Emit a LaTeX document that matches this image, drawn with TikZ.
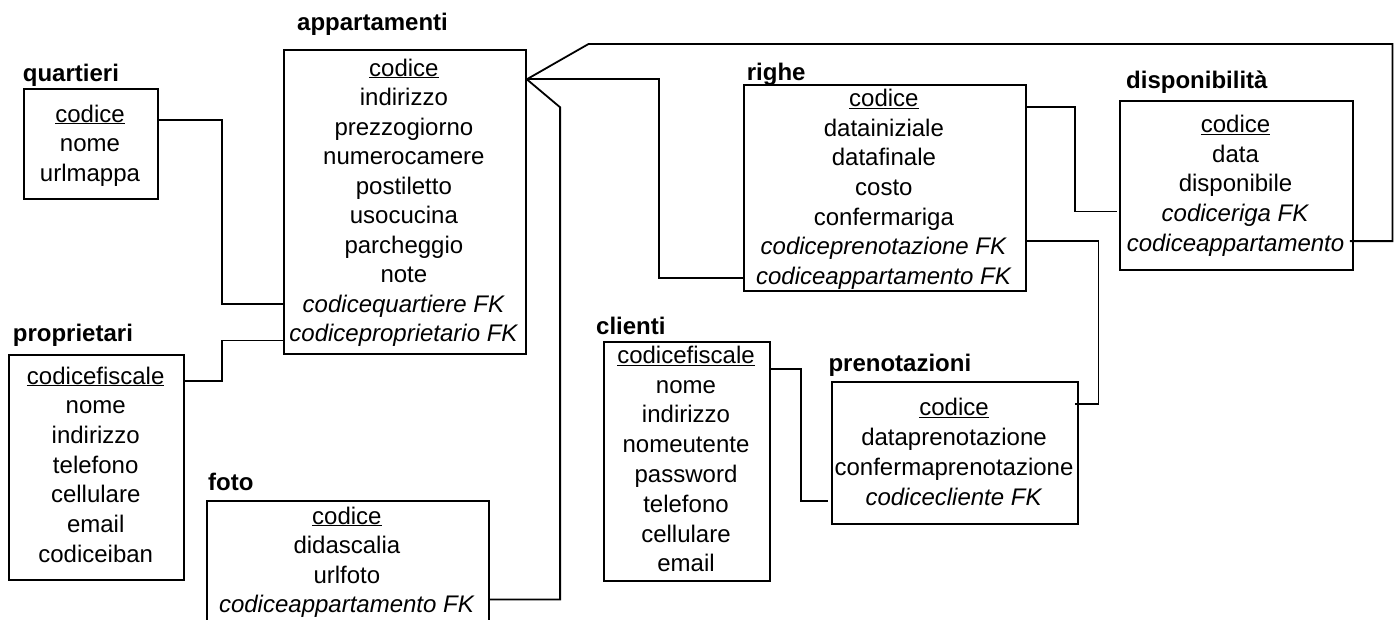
\documentclass[tikz,border=0pt]{standalone}
\usepackage{fontspec}
\setmainfont{Liberation Sans}
\usetikzlibrary{calc}

\tikzset{
  tab/.style={draw, line width=1.8pt, inner sep=0pt, anchor=north west},
  att/.style={font=\fontsize{24}{29}\selectfont, inner sep=0pt, text height=17pt, text depth=5pt},
  ttl/.style={font=\fontsize{24}{29}\selectfont\bfseries, inner sep=0pt, anchor=base west},
  fk/.style={line width=1.8pt}
}

\begin{document}
\begin{tikzpicture}[x=1pt, y=-1pt]
\useasboundingbox (0,0) rectangle (1394,619);
\clip (0,0) rectangle (1394,619);

% quartieri
\node[ttl] (quart-t) at (22.7,81.7) {quartieri};
\node[tab, minimum width=134.6pt, minimum height=109.7pt] (quart) at (22.7,88.3) {};
\foreach \t [count=\i] in {\underline{codice}, nome, urlmappa}
  \node[att] (quart-\i) at (90,{116+29.5*(\i-1)}) {\t};

% appartamenti
\node[ttl] (app-t) at (297,30) {appartamenti};
\node[tab, minimum width=242.3pt, minimum height=304pt] (app) at (282.7,49.3) {};
\foreach \t [count=\i] in {\underline{codice}, indirizzo, prezzogiorno, numerocamere, postiletto,
    usocucina, parcheggio, note, \textit{codicequartiere FK}, \textit{codiceproprietario FK}}
  \node[att] (app-\i) at (403.9,{70+29.5*(\i-1)}) {\t};

% proprietari
\node[ttl] (prop-t) at (12.7,341.7) {proprietari};
\node[tab, minimum width=175.3pt, minimum height=225.3pt] (prop) at (8,354) {};
\foreach \t [count=\i] in {\underline{codicefiscale}, nome, indirizzo, telefono, cellulare, email, codiceiban}
  \node[att] (prop-\i) at (95.7,{378+29.7*(\i-1)}) {\t};

% foto
\node[ttl] (foto-t) at (208,490) {foto};
\node[tab, minimum width=281.7pt, minimum height=140pt] (foto) at (206,500) {};
\foreach \t [count=\i] in {\underline{codice}, didascalia, urlfoto, \textit{codiceappartamento FK}}
  \node[att] (foto-\i) at (346.9,{518+29.5*(\i-1)}) {\t};

% righe
\node[ttl] (righe-t) at (746.7,80.7) {righe};
\node[tab, minimum width=282.3pt, minimum height=205.7pt] (righe) at (742.7,84.3) {};
\foreach \t [count=\i] in {\underline{codice}, datainiziale, datafinale, costo, confermariga,
    \textit{codiceprenotazione FK}, \textit{codiceappartamento FK}}
  \node[att] (righe-\i) at (883.9,{100.7+29.6*(\i-1)}) {\t};

% disponibilita
\node[ttl] (disp-t) at (1126,88) {disponibilità};
\node[tab, minimum width=232.4pt, minimum height=169.3pt] (disp) at (1119.3,100) {};
\foreach \t [count=\i] in {\underline{codice}, data, disponibile, \textit{codiceriga FK}, \textit{codiceappartamento}}
  \node[att] (disp-\i) at (1235.5,{126.7+29.6*(\i-1)}) {\t};

% clienti
\node[ttl] (cli-t) at (596,334) {clienti};
\node[tab, minimum width=166.6pt, minimum height=239.3pt] (cli) at (602.7,340.7) {};
\foreach \t [count=\i] in {\underline{codicefiscale}, nome, indirizzo, nomeutente, password, telefono, cellulare, email}
  \node[att] (cli-\i) at (686,{357.3+29.8*(\i-1)}) {\t};

% prenotazioni
\node[ttl] (pren-t) at (828.3,371) {prenotazioni};
\node[tab, minimum width=246.6pt, minimum height=142.3pt] (pren) at (830.7,381) {};
\foreach \t [count=\i] in {\underline{codice}, dataprenotazione, confermaprenotazione, \textit{codicecliente FK}}
  \node[att] (pren-\i) at (954,{409.3+29.9*(\i-1)}) {\t};

% chiavi esterne
\coordinate (piede) at ($(app.north east)+(0,30)$);
\draw[fk] ($(quart.east |- quart-1)+(0,4)$) -- ++(63,0) |- ($(app.west |- app-9)+(0,-2.4)$);
\draw[fk] ($(prop.east |- prop-1)+(0,3)$) -- ++(37,0) |- ($(app.west |- app-10)+(0,5)$);
\draw[fk] ($(foto.east |- foto-4)+(0,-7)$) -| ($(piede)+(33.3,28)$) -- (piede);
\draw[fk] (righe.west |- righe-7) -| ($(piede)+(132.3,0)$) -- (piede);
\draw[fk] ($(disp.east |- disp-5)+(-3.7,-4)$) -| ($(piede)+(865.7,-35.3)$) -- ($(piede)+(61.7,-35.3)$) -- (piede);
\draw[fk] ($(righe.east |- righe-1)+(0,6.6)$) -- ++(48.3,0) |- ($(disp.west |- disp-4)+(-2.6,-4)$);
\draw[fk] ($(righe.east |- righe-6)+(0,-7.6)$) -- ++(71.7,0) |- ($(pren.east |- pren-1)+(-4.6,-5.3)$);
\draw[fk] ($(cli.east |- cli-1)+(0,11.7)$) -- ++(29.7,0) |- ($(pren.west |- pren-4)+(-2.4,2)$);
\end{tikzpicture}
\end{document}
